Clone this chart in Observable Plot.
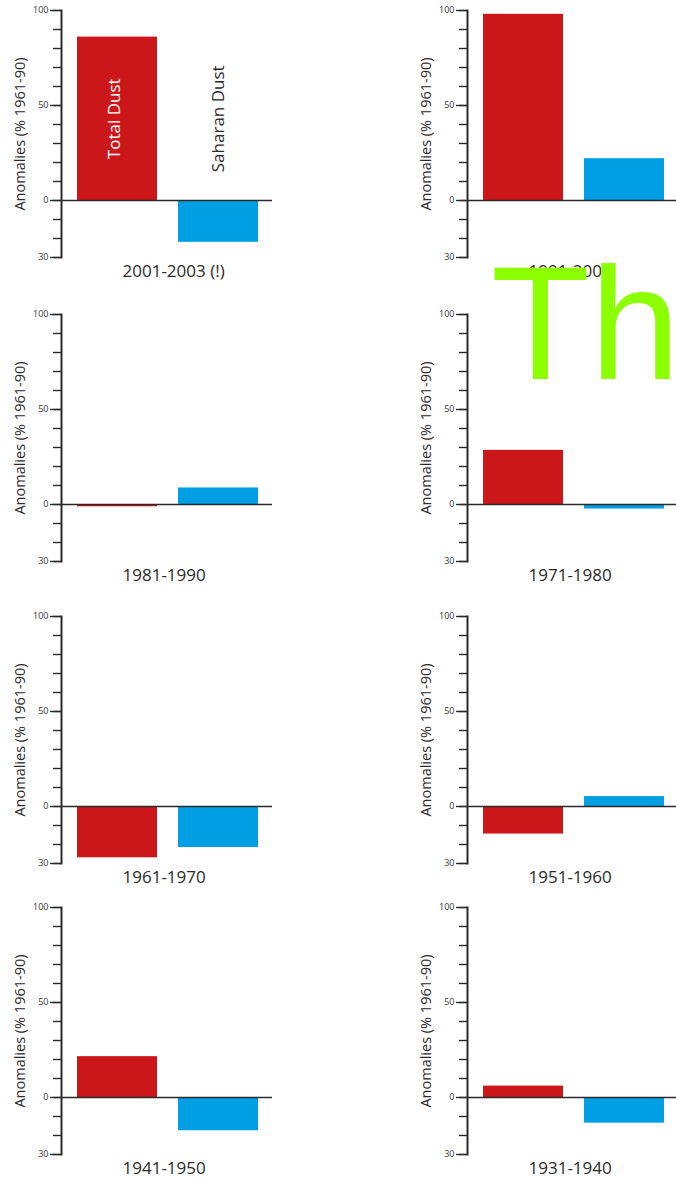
<!DOCTYPE html>
<html>
<head>
<meta charset="utf-8">
<script src="https://cdn.jsdelivr.net/npm/d3@7"></script>
<script src="https://cdn.jsdelivr.net/npm/@observablehq/plot@0.6"></script>
<style>
  html, body { margin: 0; padding: 0; background: #fff; overflow: hidden; }
  #wrap { position: relative; width: 676px; height: 1181px; overflow: hidden; background: #fff; }
  .panel { position: absolute; width: 276px; height: 285px; }
  .panel svg { max-width: none !important; width: 276px; height: 285px; }
  #overlay { position: absolute; left: 0; top: 0; pointer-events: none; }
</style>
</head>
<body>
<div id="wrap"></div>
<script>
// ---- data ----
const periods = ["2001-2003 (!)", "1991-2000", "1981-1990", "1971-1980", "1961-1970", "1951-1960", "1941-1950", "1931-1940"];
const seriesNames = ["Total Dust", "Saharan Dust"];
const totalDust   = [86, 98, -1.2, 28.5, -27, -14.5, 21.5, 6];
const saharanDust = [-22, 22, 8.7, -2.4, -21.6, 5.2, -17.5, -13.5];
const majorTicks = [100, 50, 0, -30];
const minorTicks = [100, 90, 80, 70, 60, 50, 40, 30, 20, 10, 0, -10, -20, -30];
const yLabel = "Anomalies (% 1961-90)";
const colors = ["#cc171a", "#009fe3"];

// ---- layout ----
const rowTops = [0, 304, 606, 897];
const colLefts = [0, 406];
const ink = "#2b2a29";

const wrap = document.getElementById("wrap");

periods.forEach((period, i) => {
  const rows = [
    {series: seriesNames[0], value: totalDust[i]},
    {series: seriesNames[1], value: saharanDust[i]}
  ];
  const marks = [
    Plot.barY(rows, {x: "series", y: "value", fill: "series"}),
    Plot.ruleY([0], {stroke: ink, strokeWidth: 1.6}),
    Plot.axisY({ticks: minorTicks, tickSize: 8, tickFormat: () => "", stroke: ink, strokeWidth: 1.4, label: null}),
    Plot.axisY({ticks: majorTicks, tickSize: 11, tickPadding: 2, tickFormat: d => String(Math.abs(d)), stroke: ink, fill: "#333", strokeWidth: 1.4, fontSize: 9, label: null}),
    Plot.frame({anchor: "left", stroke: ink, strokeWidth: 2}),
    Plot.text([yLabel], {frameAnchor: "left", textAnchor: "middle", dx: -41, rotate: -90, fontSize: 14.5, fill: ink}),
    Plot.text([period], {frameAnchor: "bottom-left", textAnchor: "start", dx: 61, dy: 19, fontSize: 17, fill: ink})
  ];
  if (i === 0) {
    marks.push(Plot.text([seriesNames[0]], {x: d => d, y: () => 43, text: d => d, rotate: -90, dx: -3, fontSize: 17, fill: "white"}));
    marks.push(Plot.text([seriesNames[1]], {x: d => d, y: () => 43, text: d => d, rotate: -90, fontSize: 17, fill: ink}));
  }
  const chart = Plot.plot({
    width: 276,
    height: 285,
    marginLeft: 61,
    marginRight: 4,
    marginTop: 10,
    marginBottom: 28,
    style: {fontFamily: "'Open Sans', sans-serif", background: "transparent", color: ink, overflow: "visible"},
    x: {type: "band", domain: seriesNames, range: [77, 258], paddingInner: 0.208, paddingOuter: 0, axis: null},
    y: {domain: [-30, 100], axis: null},
    color: {domain: seriesNames, range: colors},
    marks
  });
  const div = document.createElement("div");
  div.className = "panel";
  div.style.left = colLefts[i % 2] + "px";
  div.style.top = rowTops[Math.floor(i / 2)] + "px";
  div.appendChild(chart);
  wrap.appendChild(div);
});

// ---- stray overlay text seen in the reference ----
const ns = "http://www.w3.org/2000/svg";
const ov = document.createElementNS(ns, "svg");
ov.setAttribute("id", "overlay");
ov.setAttribute("width", 676);
ov.setAttribute("height", 1181);
ov.innerHTML = `<defs><clipPath id="clipTh"><rect x="0" y="263" width="676" height="200"/></clipPath></defs>
<text x="491" y="379" clip-path="url(#clipTh)" font-family="'Liberation Sans', sans-serif" font-size="162" fill="#8cff00">Th</text>`;
wrap.appendChild(ov);
</script>
</body>
</html>
